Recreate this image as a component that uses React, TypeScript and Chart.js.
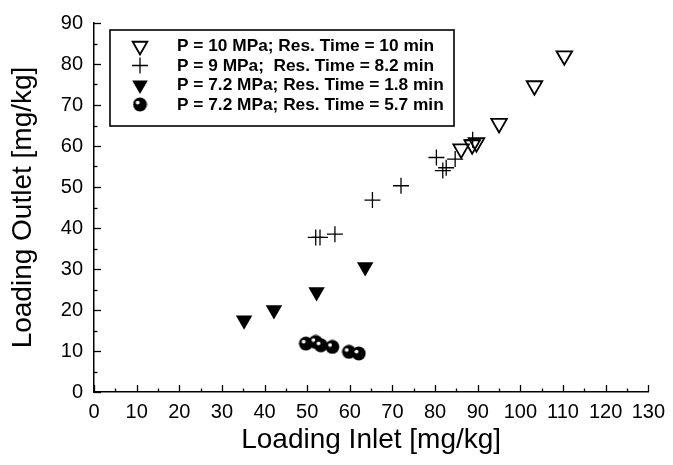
import React, { useEffect, useRef } from "react";
import { Chart, registerables } from "chart.js";

Chart.register(...registerables);

// ---- data ----
const seriesLabels = [
  "P = 10 MPa; Res. Time = 10 min",
  "P = 9 MPa;  Res. Time = 8.2 min",
  "P = 7.2 MPa; Res. Time = 1.8 min",
  "P = 7.2 MPa; Res. Time = 5.7 min",
];

const p10X = [86.1, 88.7, 89.7, 95.0, 103.3, 110.3];
const p10Y = [59.3, 60.3, 60.8, 65.5, 74.7, 82.0];

const p9X = [52.0, 53.0, 56.5, 65.3, 72.0, 80.3, 81.8, 82.6, 84.7, 88.8];
const p9Y = [37.7, 37.7, 38.5, 46.8, 50.3, 57.2, 54.0, 54.7, 56.8, 61.5];

const p72aX = [35.2, 42.2, 52.2, 63.6];
const p72aY = [17.5, 20.0, 24.4, 30.5];

const p72bX = [49.7, 52.0, 53.2, 55.9, 59.8, 62.1];
const p72bY = [11.8, 12.2, 11.4, 11.0, 9.8, 9.4];

const xMin = 0;
const xMax = 130;
const xStep = 10;
const yMin = 0;
const yMax = 90;
const yStep = 10;

const xTitle = "Loading Inlet [mg/kg]";
const yTitle = "Loading Outlet [mg/kg]";

const FONT = "'Liberation Sans', Arial, Helvetica, sans-serif";

function zip(xs: number[], ys: number[]) {
  return xs.map((x, i) => ({ x, y: ys[i] }));
}

function makeBallImage(): HTMLCanvasElement {
  const c = document.createElement("canvas");
  c.width = 15;
  c.height = 15;
  const g = c.getContext("2d")!;
  g.fillStyle = "#000";
  g.beginPath();
  g.arc(7.5, 7.5, 6.9, 0, Math.PI * 2);
  g.fill();
  g.fillStyle = "#fff";
  g.beginPath();
  g.arc(5.2, 5.6, 1.9, 0, Math.PI * 2);
  g.fill();
  return c;
}

function triPath(ctx: CanvasRenderingContext2D, x: number, y: number, r: number) {
  // downward-pointing equilateral triangle inscribed in circle radius r
  const s = Math.sqrt(3) / 2;
  ctx.beginPath();
  ctx.moveTo(x, y + r);
  ctx.lineTo(x - r * s, y - r / 2);
  ctx.lineTo(x + r * s, y - r / 2);
  ctx.closePath();
}

export default function App() {
  const ref = useRef<HTMLCanvasElement | null>(null);

  useEffect(() => {
    document.body.style.margin = "0";
    const canvas = ref.current;
    if (!canvas) return;
    const ball = makeBallImage();

    const inwardTicks = {
      id: "inwardTicks",
      afterDraw(chart: any) {
        const ctx = chart.ctx as CanvasRenderingContext2D;
        const xs = chart.scales.x;
        const ys = chart.scales.y;
        const area = chart.chartArea;
        ctx.save();
        ctx.strokeStyle = "#000";
        ctx.lineWidth = 1.3;
        for (let v = xMin; v <= xMax; v += 5) {
          const px = Math.round(xs.getPixelForValue(v)) + 0.5;
          const len = v % 10 === 0 ? 7 : 3.5;
          ctx.beginPath();
          ctx.moveTo(px, area.bottom);
          ctx.lineTo(px, area.bottom - len);
          ctx.stroke();
        }
        for (let v = yMin; v <= yMax; v += 5) {
          const py = Math.round(ys.getPixelForValue(v)) + 0.5;
          const len = v % 10 === 0 ? 7 : 3.5;
          ctx.beginPath();
          ctx.moveTo(area.left, py);
          ctx.lineTo(area.left + len, py);
          ctx.stroke();
        }
        ctx.restore();
      },
    };

    const boxLegend = {
      id: "boxLegend",
      afterDraw(chart: any) {
        const ctx = chart.ctx as CanvasRenderingContext2D;
        const left = 110;
        const top = 30;
        const right = 454;
        const bottom = 126;
        const rows = [46, 65.5, 85, 104.5];
        const symX = 140;
        const textX = 177;
        ctx.save();
        ctx.strokeStyle = "#000";
        ctx.lineWidth = 1.6;
        ctx.strokeRect(left, top, right - left, bottom - top);
        // 1: open triangle
        triPath(ctx, symX, rows[0], 8.5);
        ctx.lineWidth = 1.8;
        ctx.stroke();
        // 2: plus
        ctx.lineWidth = 1.3;
        ctx.beginPath();
        ctx.moveTo(symX - 8, rows[1]);
        ctx.lineTo(symX + 8, rows[1]);
        ctx.moveTo(symX, rows[1] - 8);
        ctx.lineTo(symX, rows[1] + 8);
        ctx.stroke();
        // 3: filled triangle
        triPath(ctx, symX, rows[2], 9);
        ctx.fillStyle = "#000";
        ctx.fill();
        // 4: ball
        ctx.drawImage(ball, symX - ball.width / 2, rows[3] - ball.height / 2);
        // texts
        ctx.fillStyle = "#000";
        ctx.font = `bold 17.3px ${FONT}`;
        ctx.textBaseline = "middle";
        ctx.textAlign = "left";
        seriesLabels.forEach((t, i) => ctx.fillText(t, textX, rows[i] + 0.5));
        ctx.restore();
      },
    };

    const chart = new Chart(canvas, {
      type: "scatter",
      data: {
        datasets: [
          {
            label: seriesLabels[0],
            data: zip(p10X, p10Y),
            pointStyle: "triangle",
            rotation: 180,
            pointRadius: 9,
            borderWidth: 1.8,
            borderColor: "#000",
            backgroundColor: "rgba(0,0,0,0)",
          },
          {
            label: seriesLabels[1],
            data: zip(p9X, p9Y),
            pointStyle: "cross",
            pointRadius: 8,
            borderWidth: 1.3,
            borderColor: "#000",
            backgroundColor: "#000",
          },
          {
            label: seriesLabels[2],
            data: zip(p72aX, p72aY),
            pointStyle: "triangle",
            rotation: 180,
            pointRadius: 9.5,
            borderWidth: 0,
            borderColor: "#000",
            backgroundColor: "#000",
          },
          {
            label: seriesLabels[3],
            data: zip(p72bX, p72bY),
            pointStyle: ball as any,
            pointRadius: 7,
            borderColor: "#000",
            backgroundColor: "#000",
          },
        ],
      },
      plugins: [inwardTicks, boxLegend],
      options: {
        responsive: false,
        animation: false,
        devicePixelRatio: 1,
        layout: { padding: { top: 22, right: 19, left: 0, bottom: 0 } },
        plugins: {
          legend: { display: false },
          tooltip: { enabled: false },
        },
        scales: {
          x: {
            type: "linear",
            min: xMin,
            max: xMax,
            afterFit: (s: any) => {
              s.height = 73;
            },
            ticks: {
              stepSize: xStep,
              color: "#000",
              font: { family: FONT, size: 20 },
              padding: 8,
              maxRotation: 0,
              autoSkip: false,
            },
            grid: { display: false, drawTicks: false },
            border: { display: true, color: "#000", width: 1.5 },
            title: {
              display: true,
              text: xTitle,
              color: "#000",
              font: { family: FONT, size: 28 },
              padding: { top: 0, bottom: 8 },
            },
          },
          y: {
            type: "linear",
            min: yMin,
            max: yMax,
            afterFit: (s: any) => {
              s.width = 94;
            },
            ticks: {
              stepSize: yStep,
              color: "#000",
              font: { family: FONT, size: 20 },
              padding: 11,
              autoSkip: false,
            },
            grid: { display: false, drawTicks: false },
            border: { display: true, color: "#000", width: 1.5 },
            title: {
              display: true,
              text: yTitle,
              color: "#000",
              font: { family: FONT, size: 28 },
              padding: { top: 6, bottom: 0 },
            },
          },
        },
      },
    });
    return () => chart.destroy();
  }, []);

  return (
    <div style={{ width: 673, height: 465, background: "#fff" }}>
      <canvas ref={ref} width={673} height={465} />
    </div>
  );
}
